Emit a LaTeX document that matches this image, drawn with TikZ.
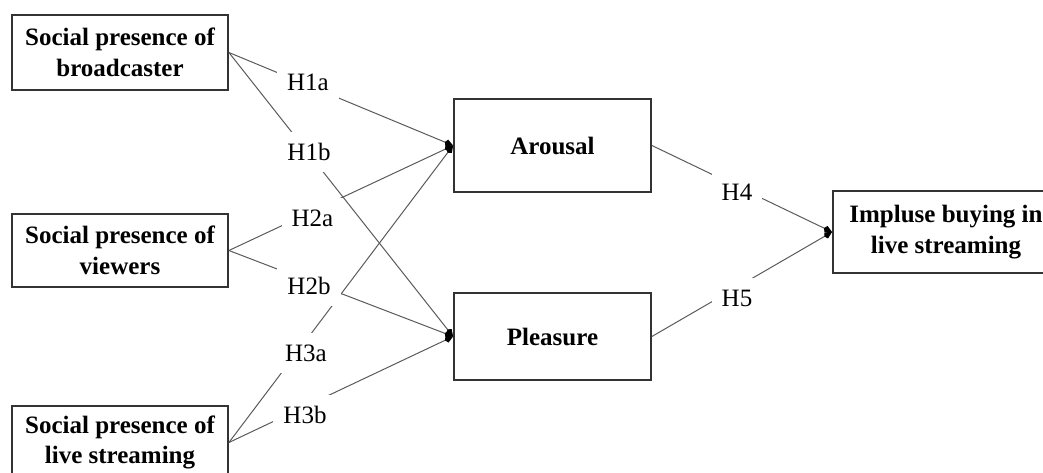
\documentclass[tikz,border=0pt]{standalone}
\usepackage{fontspec}
\setmainfont{Liberation Serif}
\usetikzlibrary{arrows.meta}
\definecolor{boxc}{HTML}{333333}
\definecolor{linec}{HTML}{5A5A5A}
\newcommand{\txtsize}{\fontsize{25}{30.5}\selectfont}
\begin{document}
\begin{tikzpicture}[x=1pt,y=-1pt,
  box/.style={draw=boxc, line width=1.8pt, inner sep=0pt, align=center,
    font=\txtsize\bfseries},
  conn/.style={draw=linec, line width=1pt, -{Kite[length=9pt,width=7pt,color=black]}},
  lab/.style={fill=white, inner xsep=10pt, inner ysep=11.5pt, font=\txtsize}]
\useasboundingbox (0,0) rectangle (1043,473);
\clip (0,0) rectangle (1043,473);
% boxes
\node[box, minimum width=216pt, minimum height=75pt] (b1) at (120,52.5) {Social presence of\\broadcaster};
\node[box, minimum width=216pt, minimum height=73pt] (b2) at (120,250.5) {Social presence of\\viewers};
\node[box, minimum width=216pt, minimum height=73pt] (b3) at (120,442.5) {Social presence of\\live streaming};
\node[box, minimum width=197pt, minimum height=93pt] (ar) at (552.5,145.5) {Arousal};
\node[box, minimum width=197pt, minimum height=87pt] (pl) at (552.5,336.5) {Pleasure};
\node[box, minimum width=226pt, minimum height=82pt] (ib) at (946,232) {Impluse buying in\\live streaming};
% connectors
\draw[conn] (b1.east) -- (ar.west);
\draw[conn] (b1.east) -- (pl.west);
\draw[conn] (b2.east) -- (ar.west);
\draw[conn] (b2.east) -- (pl.west);
\draw[conn] (b3.east) -- (ar.west);
\draw[conn] (b3.east) -- (pl.west);
\draw[conn] (ar.east) -- (ib.west);
\draw[conn] (pl.east) -- (ib.west);
% labels
\node[lab] (h1a) at (308,82) {H1a};
\node[lab] (h1b) at (309,152) {H1b};
\node[lab] (h2a) at (312.5,218) {H2a};
\node[lab] (h2b) at (309,286) {H2b};
\node[lab] (h3a) at (306,353) {H3a};
\node[lab] (h3b) at (305,415) {H3b};
\node[lab] (h4) at (737,192) {H4};
\node[lab] (h5) at (737,298) {H5};
\end{tikzpicture}
\end{document}
